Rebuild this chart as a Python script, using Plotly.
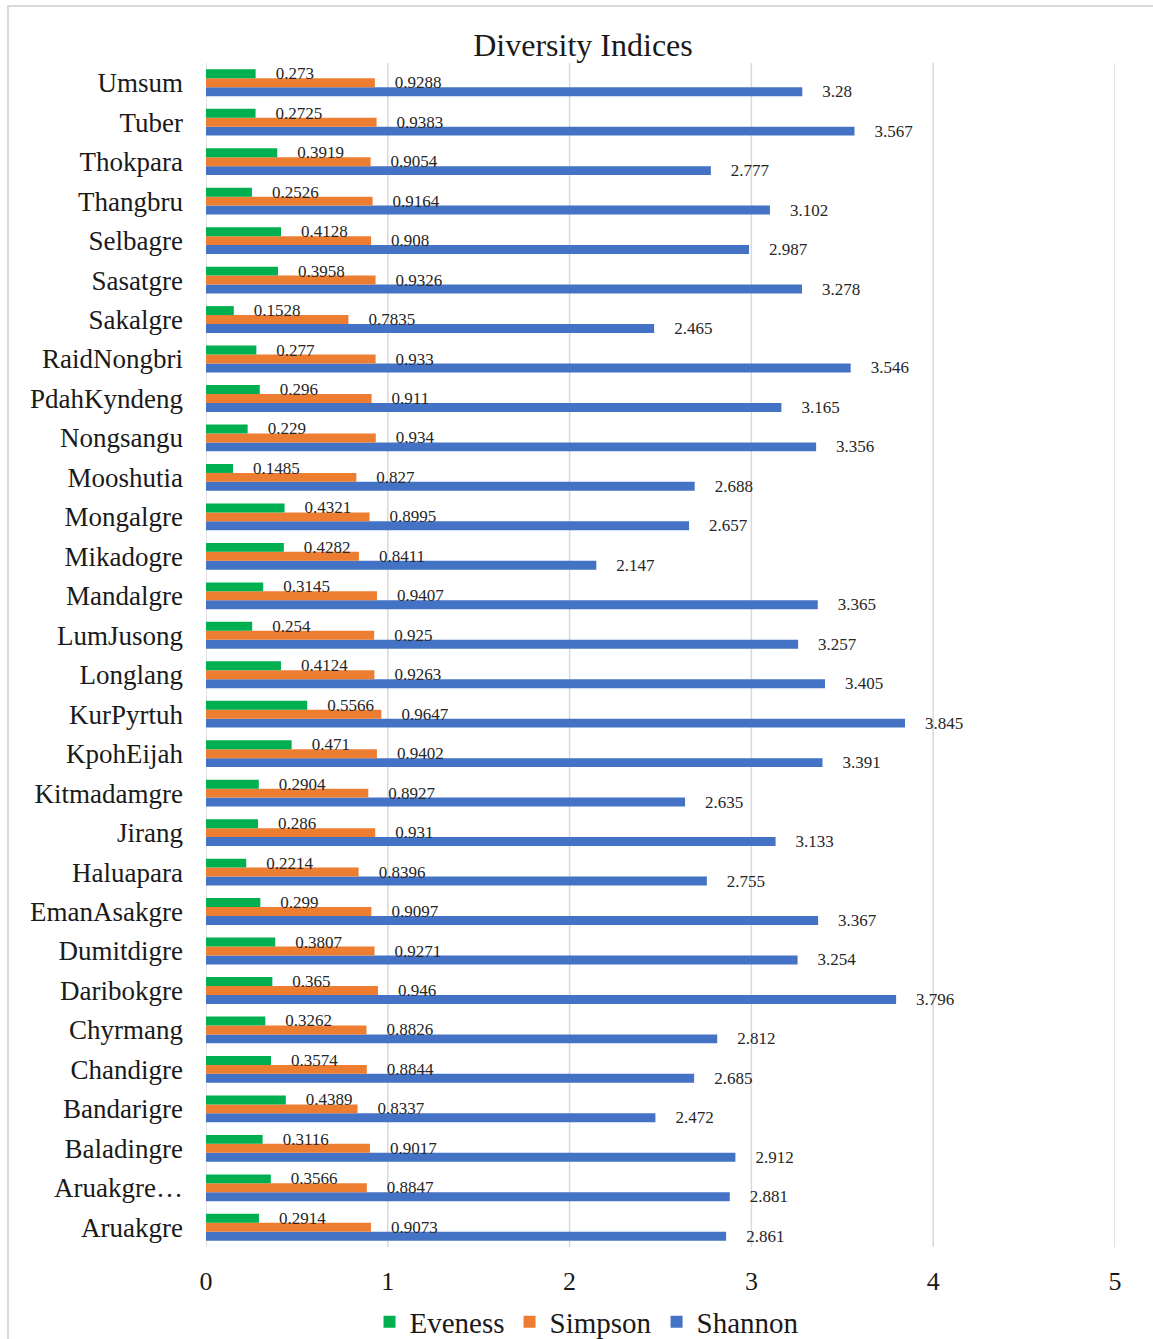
import plotly.graph_objects as go

categories = ["Aruakgre", "Aruakgre…", "Baladingre", "Bandarigre", "Chandigre", "Chyrmang",
              "Daribokgre", "Dumitdigre", "EmanAsakgre", "Haluapara", "Jirang", "Kitmadamgre",
              "KpohEijah", "KurPyrtuh", "Longlang", "LumJusong", "Mandalgre", "Mikadogre",
              "Mongalgre", "Mooshutia", "Nongsangu", "PdahKyndeng", "RaidNongbri", "Sakalgre",
              "Sasatgre", "Selbagre", "Thangbru", "Thokpara", "Tuber", "Umsum"]

eveness = [0.2914, 0.3566, 0.3116, 0.4389, 0.3574, 0.3262, 0.365, 0.3807, 0.299, 0.2214,
           0.286, 0.2904, 0.471, 0.5566, 0.4124, 0.254, 0.3145, 0.4282, 0.4321, 0.1485,
           0.229, 0.296, 0.277, 0.1528, 0.3958, 0.4128, 0.2526, 0.3919, 0.2725, 0.273]
simpson = [0.9073, 0.8847, 0.9017, 0.8337, 0.8844, 0.8826, 0.946, 0.9271, 0.9097, 0.8396,
           0.931, 0.8927, 0.9402, 0.9647, 0.9263, 0.925, 0.9407, 0.8411, 0.8995, 0.827,
           0.934, 0.911, 0.933, 0.7835, 0.9326, 0.908, 0.9164, 0.9054, 0.9383, 0.9288]
shannon = [2.861, 2.881, 2.912, 2.472, 2.685, 2.812, 3.796, 3.254, 3.367, 2.755,
           3.133, 2.635, 3.391, 3.845, 3.405, 3.257, 3.365, 2.147, 2.657, 2.688,
           3.356, 3.165, 3.546, 2.465, 3.278, 2.987, 3.102, 2.777, 3.567, 3.28]

x_ticks = [0, 1, 2, 3, 4, 5]

FONT = "Liberation Serif"
W, H = 1153, 1339
ML, MR, MT, MB = 206, 38, 63, 92
PW, PH = W - ML - MR, H - MT - MB

series = [
    ("Shannon", shannon, "#4472C4"),
    ("Simpson", simpson, "#ED7D31"),
    ("Eveness", eveness, "#00B050"),
]

fig = go.Figure()

def px_x(p):
    return (p - ML) / PW

def px_y(p):
    return (H - MB - p) / PH

fig.add_shape(type="rect", xref="paper", yref="paper",
              x0=px_x(8), x1=px_x(1170), y0=px_y(1360), y1=px_y(6),
              line=dict(color="#D9D9D9", width=2), fillcolor="rgba(0,0,0,0)", layer="below")

# vertical gridlines at each tick value
for t in x_ticks:
    fig.add_shape(type="line", xref="x", yref="paper", x0=t, x1=t, y0=0, y1=1,
                  line=dict(color="#D9D9D9", width=1.5), layer="below")

for name, vals, color in series:
    fig.add_trace(go.Bar(
        name=name, y=categories, x=vals, orientation="h",
        marker=dict(color=color, line=dict(width=0)),
        text=["    " + str(v) for v in vals],
        textposition="outside", constraintext="none", cliponaxis=False,
        textfont=dict(family=FONT, size=17, color="#262626"),
    ))

fig.update_layout(
    width=W, height=H,
    margin=dict(l=ML, r=MR, t=MT, b=MB, autoexpand=False),
    paper_bgcolor="white", plot_bgcolor="white",
    barmode="group", bargap=0.32, bargroupgap=0,
    font=dict(family=FONT, color="#1a1a1a"),
    title=dict(text="Diversity Indices", x=583 / W, xref="container", xanchor="center",
               y=1 - 45 / H, yref="container", yanchor="middle",
               font=dict(family=FONT, size=32, color="#1a1a1a")),
    xaxis=dict(range=[0, 5], tickvals=x_ticks, showgrid=False,
               zeroline=False, showline=False, ticks="", ticklabelstandoff=16,
               automargin=False,
               tickfont=dict(family=FONT, size=26, color="#1a1a1a")),
    yaxis=dict(categoryorder="array", categoryarray=categories, showgrid=False, zeroline=False,
               showline=False, ticks="", ticklabelstandoff=22, automargin=False,
               tickfont=dict(family=FONT, size=27, color="#1a1a1a")),
    legend=dict(orientation="h", traceorder="reversed", xref="container", x=587 / W,
                xanchor="center", yref="container", y=1 - 1322 / H, yanchor="middle",
                bgcolor="rgba(0,0,0,0)",
                font=dict(family=FONT, size=29, color="#1a1a1a"), itemwidth=30),
    showlegend=True,
)

fig.write_html("out.html")
